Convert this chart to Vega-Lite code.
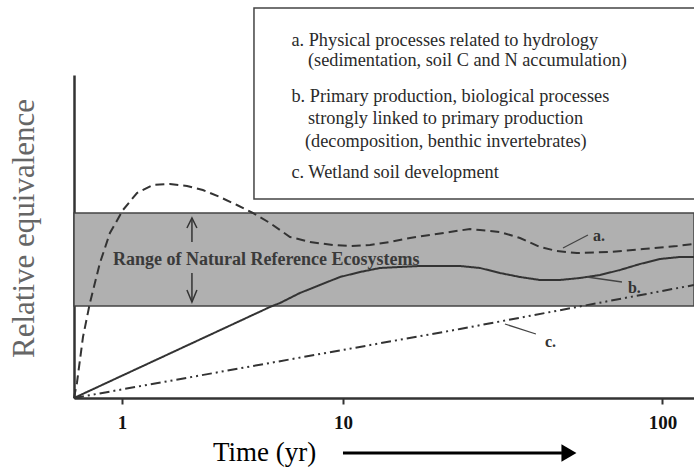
{
  "$schema": "https://vega.github.io/schema/vega-lite/v6.json",
  "width": 620,
  "height": 323,
  "autosize": {"type": "none"},
  "padding": {"left": 74, "top": 75, "right": 0, "bottom": 69},
  "background": "white",
  "config": {"view": {"stroke": null}, "font": "Liberation Serif"},
  "encoding": {
    "x": {
      "field": "t", "type": "quantitative",
      "scale": {"type": "pow", "exponent": 0.16, "domain": [0.53, 120.57], "nice": false, "zero": false},
      "axis": {
        "title": "Time (yr)", "values": [1, 10, 100], "format": "d", "grid": false,
        "domainColor": "#333", "domainWidth": 2.5, "tickColor": "#333", "tickWidth": 2, "tickSize": 6,
        "labelFont": "Liberation Serif", "labelFontWeight": "bold", "labelFontSize": 19, "labelColor": "#111",
        "labelPadding": 9, "labelFlush": false,
        "titleFont": "Liberation Serif", "titleFontSize": 27, "titleFontWeight": "normal", "titleColor": "#000",
        "titleX": 190, "titleY": 62, "titleBaseline": "alphabetic", "titleAlign": "center"
      }
    },
    "y": {
      "field": "y", "type": "quantitative",
      "scale": {"domain": [0, 323], "nice": false, "zero": true},
      "axis": {
        "title": "Relative equivalence", "grid": false, "ticks": false, "labels": false,
        "domainColor": "#333", "domainWidth": 2.5,
        "titleFont": "Liberation Serif", "titleFontSize": 31, "titleFontWeight": "normal", "titleColor": "#666",
        "titleX": -41, "titleY": 153, "titleAngle": -90, "titleBaseline": "alphabetic", "titleAlign": "center"
      }
    }
  },
  "layer": [
    {
      "data": {"values": [{"t": 0.53, "t2": 120.57, "y": 92, "y2": 185}]},
      "mark": {"type": "rect", "fill": "#b0b0b0", "stroke": "#444", "strokeWidth": 1.5},
      "encoding": {"x2": {"field": "t2"}, "y2": {"field": "y2"}}
    },
    {
      "data": {"values": [{"t": 4.369, "t2": 200, "y": 199, "y2": 390}]},
      "mark": {"type": "rect", "fill": "white", "stroke": "#444", "strokeWidth": 1.5, "clip": false},
      "encoding": {"x2": {"field": "t2"}, "y2": {"field": "y2"}}
    },
    {
      "data": {"values": [{"t": 0.892, "y": 133, "label": "Range of Natural Reference Ecosystems"}]},
      "mark": {"type": "text", "align": "left", "baseline": "alphabetic", "fontWeight": "bold", "fontSize": 18, "fill": "#3a3a3a"},
      "encoding": {"text": {"field": "label"}}
    },
    {
      "data": {"values": [
        {"g": "up1", "o": 1, "t": 2.2815, "y": 156},
        {"g": "up1", "o": 2, "t": 2.2815, "y": 180},
        {"g": "up2", "o": 1, "t": 2.158, "y": 170},
        {"g": "up2", "o": 2, "t": 2.2815, "y": 180},
        {"g": "up2", "o": 3, "t": 2.41, "y": 170},
        {"g": "dn1", "o": 1, "t": 2.2815, "y": 125},
        {"g": "dn1", "o": 2, "t": 2.2815, "y": 96},
        {"g": "dn2", "o": 1, "t": 2.158, "y": 108},
        {"g": "dn2", "o": 2, "t": 2.2815, "y": 96},
        {"g": "dn2", "o": 3, "t": 2.41, "y": 108}
      ]},
      "mark": {"type": "line", "stroke": "#333", "strokeWidth": 1.5},
      "encoding": {"detail": {"field": "g"}, "order": {"field": "o"}}
    },
    {
      "data": {"values": [
        {"s": "a", "t": 0.53, "y": 0},
        {"s": "a", "t": 0.552, "y": 15},
        {"s": "a", "t": 0.60, "y": 61},
        {"s": "a", "t": 0.659, "y": 95},
        {"s": "a", "t": 0.753, "y": 135},
        {"s": "a", "t": 0.858, "y": 165},
        {"s": "a", "t": 1.013, "y": 188},
        {"s": "a", "t": 1.205, "y": 205},
        {"s": "a", "t": 1.46, "y": 213},
        {"s": "a", "t": 1.78, "y": 214},
        {"s": "a", "t": 2.16, "y": 212},
        {"s": "a", "t": 2.57, "y": 208},
        {"s": "a", "t": 3.08, "y": 201},
        {"s": "a", "t": 3.68, "y": 193},
        {"s": "a", "t": 4.32, "y": 185},
        {"s": "a", "t": 5.11, "y": 175},
        {"s": "a", "t": 6.19, "y": 161},
        {"s": "a", "t": 7.45, "y": 156},
        {"s": "a", "t": 9.16, "y": 153},
        {"s": "a", "t": 10.62, "y": 152},
        {"s": "a", "t": 12.6, "y": 153},
        {"s": "a", "t": 14.87, "y": 156},
        {"s": "a", "t": 17.47, "y": 160},
        {"s": "a", "t": 20.45, "y": 163},
        {"s": "a", "t": 23.84, "y": 166},
        {"s": "a", "t": 27.69, "y": 169},
        {"s": "a", "t": 29.81, "y": 168},
        {"s": "a", "t": 34.45, "y": 166},
        {"s": "a", "t": 39.69, "y": 160},
        {"s": "a", "t": 45.56, "y": 151},
        {"s": "a", "t": 51.12, "y": 147},
        {"s": "a", "t": 58.38, "y": 145},
        {"s": "a", "t": 72.26, "y": 146},
        {"s": "a", "t": 88.8, "y": 149},
        {"s": "a", "t": 109.07, "y": 152},
        {"s": "a", "t": 120.57, "y": 154},
        {"s": "b", "t": 0.53, "y": 0},
        {"s": "b", "t": 5.11, "y": 91},
        {"s": "b", "t": 5.63, "y": 95},
        {"s": "b", "t": 6.79, "y": 105},
        {"s": "b", "t": 8.15, "y": 113},
        {"s": "b", "t": 9.74, "y": 121},
        {"s": "b", "t": 11.58, "y": 126},
        {"s": "b", "t": 13.69, "y": 130},
        {"s": "b", "t": 16.13, "y": 131},
        {"s": "b", "t": 18.91, "y": 132},
        {"s": "b", "t": 22.09, "y": 132},
        {"s": "b", "t": 25.71, "y": 132},
        {"s": "b", "t": 29.81, "y": 130},
        {"s": "b", "t": 34.45, "y": 125},
        {"s": "b", "t": 39.69, "y": 121},
        {"s": "b", "t": 45.56, "y": 118},
        {"s": "b", "t": 52.16, "y": 118},
        {"s": "b", "t": 59.54, "y": 120},
        {"s": "b", "t": 67.8, "y": 123},
        {"s": "b", "t": 76.98, "y": 128},
        {"s": "b", "t": 87.18, "y": 134},
        {"s": "b", "t": 98.51, "y": 139},
        {"s": "b", "t": 111.0, "y": 141},
        {"s": "b", "t": 120.57, "y": 141},
        {"s": "c", "t": 0.53, "y": 0},
        {"s": "c", "t": 25.71, "y": 69},
        {"s": "c", "t": 120.57, "y": 113}
      ]},
      "mark": {"type": "line", "stroke": "#333", "strokeWidth": 2},
      "encoding": {
        "detail": {"field": "s"},
        "strokeDash": {"field": "s", "type": "nominal", "legend": null,
          "scale": {"domain": ["a", "b", "c"], "range": [[9, 5], [1, 0], [10, 4, 2, 4, 2, 4]]}}
      }
    },
    {
      "data": {"values": [
        {"t": 53.22, "y": 150, "t2": 62.73, "y2": 163},
        {"t": 62.33, "y": 121, "t2": 77.95, "y2": 116},
        {"t": 35.7, "y": 74, "t2": 44.32, "y2": 64}
      ]},
      "mark": {"type": "rule", "stroke": "#444", "strokeWidth": 1.3},
      "encoding": {"x2": {"field": "t2"}, "y2": {"field": "y2"}}
    },
    {
      "data": {"values": [
        {"t": 64.8, "y": 157, "label": "a."},
        {"t": 80.9, "y": 105, "label": "b."},
        {"t": 47.13, "y": 51, "label": "c."}
      ]},
      "mark": {"type": "text", "align": "left", "baseline": "alphabetic", "fontWeight": "bold", "fontSize": 16, "fill": "#333"},
      "encoding": {"text": {"field": "label"}}
    },
    {
      "data": {"values": [
        {"t": 6.275, "y": 352, "label": "a. Physical processes related to hydrology"},
        {"t": 7.313, "y": 332, "label": "(sedimentation, soil C and N accumulation)"},
        {"t": 6.275, "y": 296, "label": "b. Primary production, biological processes"},
        {"t": 7.313, "y": 274, "label": "strongly linked to primary production"},
        {"t": 7.114, "y": 251, "label": "(decomposition, benthic invertebrates)"},
        {"t": 6.275, "y": 220, "label": "c. Wetland soil development"}
      ]},
      "mark": {"type": "text", "align": "left", "baseline": "alphabetic", "fontSize": 18.3, "fill": "#2a2a2a", "clip": false},
      "encoding": {"text": {"field": "label"}}
    },
    {
      "data": {"values": [{"t": 10, "t2": 52.85, "y": -55}]},
      "mark": {"type": "rule", "stroke": "#000", "strokeWidth": 3, "clip": false},
      "encoding": {"x2": {"field": "t2"}}
    },
    {
      "data": {"values": [{"t": 55.38, "y": -55}]},
      "mark": {"type": "point", "shape": "triangle-right", "size": 300, "filled": true, "fill": "#000", "opacity": 1, "clip": false},
      "encoding": {}
    }
  ]
}
